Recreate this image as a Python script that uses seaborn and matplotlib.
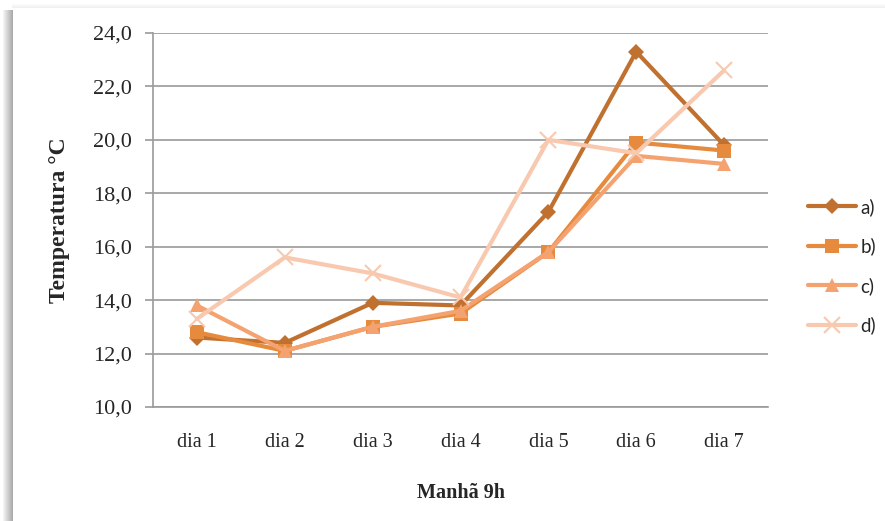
import numpy as np
import pandas as pd
import matplotlib
matplotlib.use("Agg")
import matplotlib.pyplot as plt
from matplotlib.patches import Rectangle
from matplotlib.ticker import FuncFormatter
import seaborn as sns

# Daily morning (9h) temperatures for four series
dias = ["dia 1", "dia 2", "dia 3", "dia 4", "dia 5", "dia 6", "dia 7"]
serie_a = [12.6, 12.4, 13.9, 13.8, 17.3, 23.3, 19.8]
serie_b = [12.8, 12.1, 13.0, 13.5, 15.8, 19.9, 19.6]
serie_c = [13.8, 12.1, 13.0, 13.6, 15.8, 19.4, 19.1]
serie_d = [13.3, 15.6, 15.0, 14.1, 20.0, 19.5, 22.6]
nomes = ["a)", "b)", "c)", "d)"]

df = pd.DataFrame({
    "dia": dias * 4,
    "temp": serie_a + serie_b + serie_c + serie_d,
    "serie": [n for n in nomes for _ in dias],
})

sns.set_theme(style="white")
plt.rcParams["font.family"] = ["Liberation Serif", "DejaVu Serif"]

fig = plt.figure(figsize=(8.85, 5.21), dpi=100)

# soft shadow along the left and top edges of the chart frame
for i in range(10):
    a = 0.05 + 0.035 * i
    fig.patches.append(Rectangle(((3 + i) / 885, 0), 1 / 885, 1 - 10 / 521,
                                 transform=fig.transFigure, color="black",
                                 alpha=a * 0.9, lw=0, zorder=0))
for i in range(4):
    fig.patches.append(Rectangle((12 / 885, 1 - (5 + i) / 521), 1, 1 / 521,
                                 transform=fig.transFigure, color="black",
                                 alpha=0.015 * (i + 1), lw=0, zorder=0))

ax = fig.add_axes([153 / 885, 1 - 407 / 521, 615 / 885, 374 / 521])

cores = {"a)": "#C0702F", "b)": "#E68A3E", "c)": "#F4A370", "d)": "#F8C9AE"}
marcadores = {"a)": "D", "b)": "s", "c)": "^", "d)": "x"}
tamanhos = {"a)": 8, "b)": 10, "c)": 10, "d)": 11}

for n in nomes:
    sub = df[df["serie"] == n]
    sns.lineplot(data=sub, x="dia", y="temp", ax=ax, color=cores[n],
                 marker=marcadores[n], markersize=tamanhos[n],
                 markeredgecolor=cores[n], markeredgewidth=1.5 if n == "d)" else 0,
                 linewidth=3, label=n, sort=False)

ax.set_xlim(-0.5, len(dias) - 0.5)
ax.set_ylim(10, 24)
ax.set_yticks(np.arange(10, 24.1, 2))
ax.yaxis.set_major_formatter(FuncFormatter(lambda v, p: f"{v:.1f}".replace(".", ",")))
ax.grid(axis="y", color="#9a9a9a", linewidth=1.2)
ax.set_axisbelow(True)
for s in ["top", "right"]:
    ax.spines[s].set_visible(False)
for s in ["left", "bottom"]:
    ax.spines[s].set_color("#9a9a9a")
    ax.spines[s].set_linewidth(1.2)
ax.tick_params(axis="y", which="major", left=True, length=6, width=1.2,
               color="#9a9a9a", labelsize=16, pad=9)
ax.tick_params(axis="x", bottom=False, labelsize=14.5, pad=13)

ax.set_xlabel("Manhã 9h", fontsize=14.5, fontweight="bold", labelpad=22)
ax.set_ylabel("Temperatura °C", fontsize=17, fontweight="bold", labelpad=17)

leg = ax.legend(loc="center left", bbox_to_anchor=(1.037, 0.377), frameon=False,
                prop={"family": ["Lato", "DejaVu Sans"], "size": 13.5},
                handlelength=2.6, labelspacing=1.15, handletextpad=0.2)

fig.savefig("out.png", dpi=100, facecolor="white")
